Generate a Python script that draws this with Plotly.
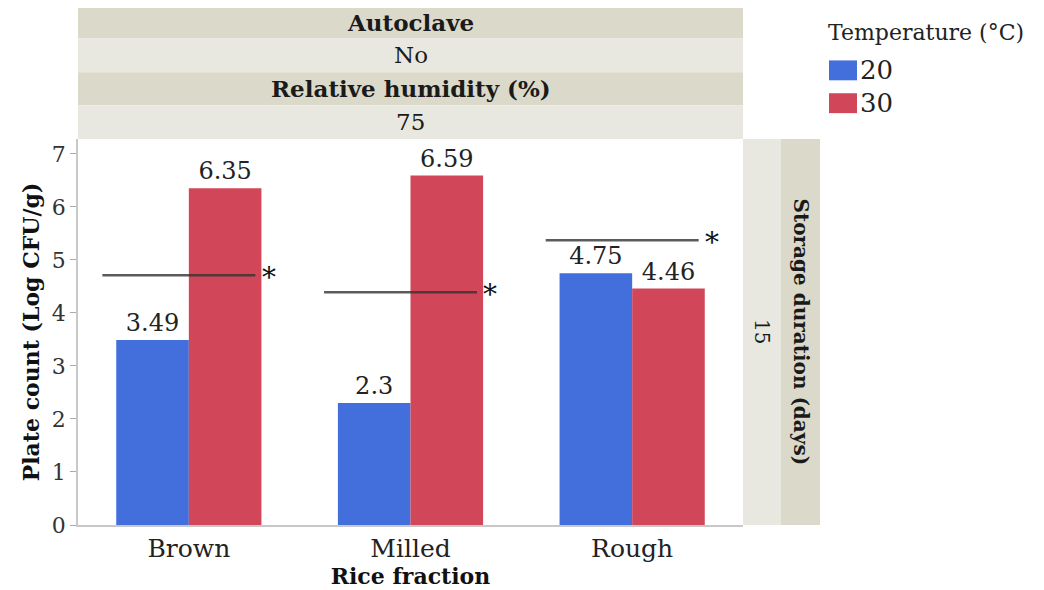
import plotly.graph_objects as go

fractions = ["Brown", "Milled", "Rough"]
temp_20 = [3.49, 2.3, 4.75]
temp_30 = [6.35, 6.59, 4.46]
thresholds = [4.71, 4.39, 5.37]
temp_labels = ["20", "30"]

BLUE = "#426fdb"
RED = "#d14658"
STRIP_DARK = "#dbd9ca"
STRIP_LIGHT = "#e8e8e0"
FONT = "DejaVu Serif"

OFF = 8  # page body margin
W, H = 1044 - OFF, 590 - OFF
# plot area, in page pixels
L, R, T, B = 78, 743, 139, 527

def py(y):
    # page pixel y -> paper y
    return (B - y) / (B - T)

def px(x):
    return (x - L) / (R - L)

fig = go.Figure()
for name, vals, col in [(temp_labels[0], temp_20, BLUE), (temp_labels[1], temp_30, RED)]:
    fig.add_trace(go.Bar(
        x=fractions, y=vals, name=name, marker_color=col, marker_line_width=0,
        text=[f"{v:g}" for v in vals], textposition="outside",
        textfont=dict(family=FONT, size=24, color="#222"),
        cliponaxis=False, showlegend=False,
    ))

shapes = []
annotations = []

# significance lines with asterisk
for i, th in enumerate(thresholds):
    shapes.append(dict(type="line", xref="x", yref="y", x0=i - 0.39, x1=i + 0.30,
                       y0=th, y1=th, line=dict(color="rgba(50,50,50,0.8)", width=2.5)))
    annotations.append(dict(xref="x", yref="y", x=i + 0.36, y=th, text="*",
                            xanchor="center", yanchor="middle",
                            showarrow=False, font=dict(family=FONT, size=28, color="#111"),
                            yshift=-2))

# top strips
top_strips = [(5, 38, STRIP_DARK, "<b>Autoclave</b>"),
              (38, 72, STRIP_LIGHT, "No"),
              (72, 105, STRIP_DARK, "<b>Relative humidity (%)</b>"),
              (105, 139, STRIP_LIGHT, "75")]
for y0, y1, col, txt in top_strips:
    shapes.append(dict(type="rect", xref="paper", yref="paper", x0=0, x1=1,
                       y0=py(y1), y1=py(y0), fillcolor=col, line_width=0, layer="below"))
    annotations.append(dict(xref="paper", yref="paper", x=0.5, y=py((y0 + y1) / 2),
                            xanchor="center", yanchor="middle",
                            text=txt, showarrow=False,
                            font=dict(family=FONT, size=23, color="#1a1a1a")))

# right strips
right_strips = [(743, 781, STRIP_LIGHT, "15"),
                (781, 820, STRIP_DARK, "<b>Storage duration (days)</b>")]
for x0, x1, col, txt in right_strips:
    shapes.append(dict(type="rect", xref="paper", yref="paper", x0=px(x0), x1=px(x1),
                       y0=0, y1=1, fillcolor=col, line_width=0, layer="below"))
    annotations.append(dict(xref="paper", yref="paper", x=px((x0 + x1) / 2), y=0.5,
                            xanchor="center", yanchor="middle",
                            text=txt, showarrow=False, textangle=90,
                            font=dict(family=FONT, size=20, color="#1a1a1a")))

# legend
annotations.append(dict(xref="paper", yref="paper", x=px(826), y=py(32),
                        xanchor="left", yanchor="middle",
                        text="Temperature (°C)", showarrow=False,
                        font=dict(family=FONT, size=22, color="#222")))
for k, (lab, col) in enumerate(zip(temp_labels, [BLUE, RED])):
    yc = 70 + 33 * k
    shapes.append(dict(type="rect", xref="paper", yref="paper", x0=px(829), x1=px(857),
                       y0=py(yc + 10), y1=py(yc - 10), fillcolor=col, line_width=0))
    annotations.append(dict(xref="paper", yref="paper", x=px(858), y=py(yc),
                            xanchor="left", yanchor="middle",
                            text=lab, showarrow=False,
                            font=dict(family=FONT, size=26, color="#222")))

fig.update_layout(
    width=W, height=H,
    margin=dict(l=L - OFF, r=W - (R - OFF), t=T - OFF, b=H - (B - OFF), pad=0),
    paper_bgcolor="white", plot_bgcolor="white",
    barmode="group", bargap=0.345, bargroupgap=0,
    font=dict(family=FONT, size=20, color="#333"),
    shapes=shapes, annotations=annotations,
    xaxis=dict(showgrid=False, showline=True, linecolor="#c8c8c8", linewidth=1.5,
               ticks="", tickfont=dict(family=FONT, size=25, color="#222"),
               title=dict(text="<b>Rice fraction</b>", standoff=0,
                          font=dict(family=FONT, size=22, color="#111"))),
    yaxis=dict(range=[0, 7.28], showgrid=False, zeroline=False, showline=True,
               linecolor="#c8c8c8", linewidth=1.5, ticks="outside", ticklen=6,
               tickcolor="#aaa", dtick=1, tickfont=dict(family=FONT, size=22, color="#333"),
               title=dict(text="<b>Plate count (Log CFU/g)</b>", standoff=6,
                          font=dict(family=FONT, size=22, color="#111"))),
)

fig.write_html("out.html")
